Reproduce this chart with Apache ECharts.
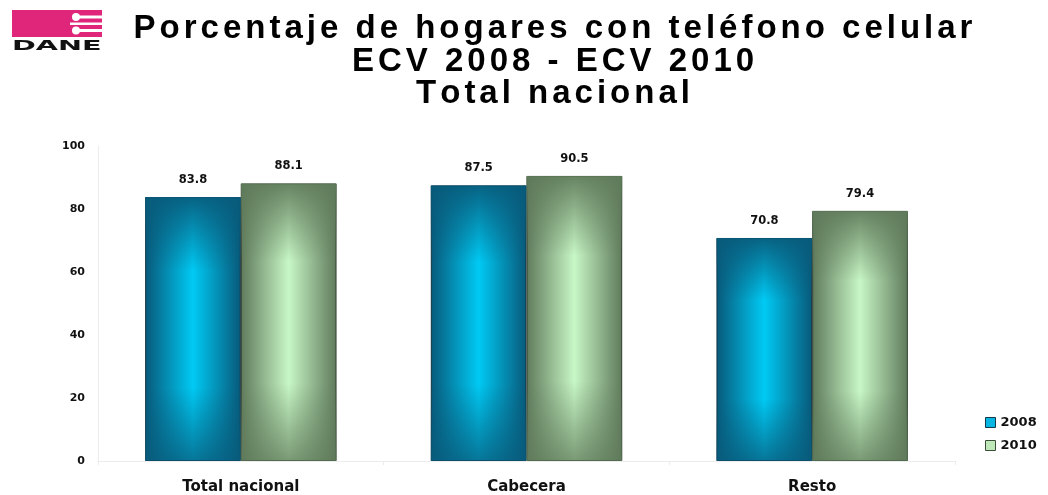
<!DOCTYPE html>
<html>
<head>
<meta charset="utf-8">
<style>html,body{margin:0;padding:0;background:#fff;}#c{width:1048px;height:495px;}</style>
<script src="https://cdn.jsdelivr.net/npm/echarts@6/dist/echarts.min.js"></script>
</head>
<body>
<div id="c"></div>
<script>
const titleLines = ['Porcentaje de hogares con teléfono celular', 'ECV 2008 - ECV 2010', 'Total nacional'];
const categories = ['Total nacional', 'Cabecera', 'Resto'];
const values2008 = [83.8, 87.5, 70.8];
const values2010 = [88.1, 90.5, 79.4];
const seriesNames = ['2008', '2010'];
const yTicks = { min: 0, max: 100, interval: 20 };

const chart = echarts.init(document.getElementById('c'), null, { renderer: 'canvas' });

function hGrad(edge, center) {
  return new echarts.graphic.LinearGradient(0, 0, 1, 0, [
    { offset: 0, color: edge },
    { offset: 0.5, color: center },
    { offset: 1, color: edge }
  ]);
}
function vShade(rgb) {
  return new echarts.graphic.LinearGradient(0, 0, 0, 1, [
    { offset: 0, color: 'rgba(' + rgb + ',0.92)' },
    { offset: 0.28, color: 'rgba(' + rgb + ',0)' },
    { offset: 0.72, color: 'rgba(' + rgb + ',0)' },
    { offset: 1, color: 'rgba(' + rgb + ',0.75)' }
  ]);
}
// letter-spaced title: each character as a rich token with side padding
function spaced(line) {
  return Array.from(line).map(ch => '{s|' + ch + '}').join('');
}

const font = 'Liberation Sans';
const lblFont = 'DejaVu Sans';
const labelStyle = { show: true, position: 'top', distance: 11, fontFamily: lblFont, fontWeight: 'bold', fontSize: 11.5, color: '#111' };

const xAxisBase = {
  type: 'category',
  data: categories,
  axisLine: { lineStyle: { color: '#ececec' } },
  axisTick: { show: true, length: 4, lineStyle: { color: '#ececec' } },
  splitLine: { show: false }
};

chart.setOption({
  backgroundColor: '#ffffff',
  animation: false,
  title: {
    text: titleLines.map(spaced).join('\n'),
    left: 548,
    top: 8,
    textAlign: 'center',
    textStyle: {
      fontFamily: font, fontWeight: 'bold', fontSize: 33, lineHeight: 32.5, color: '#000',
      rich: { s: { fontFamily: font, fontWeight: 'bold', fontSize: 33, lineHeight: 32.5, color: '#000', padding: [0, 2, 0, 2] } }
    }
  },
  graphic: [
    { type: 'rect', shape: { x: 12, y: 10, width: 90, height: 27 }, style: { fill: '#e0267a' } },
    { type: 'rect', shape: { x: 74, y: 15.5, width: 28, height: 3 }, style: { fill: '#fff' } },
    { type: 'rect', shape: { x: 70, y: 22.5, width: 32, height: 2.5 }, style: { fill: '#fff' } },
    { type: 'rect', shape: { x: 74, y: 29, width: 28, height: 3 }, style: { fill: '#fff' } },
    { type: 'circle', shape: { cx: 76, cy: 17, r: 4 }, style: { fill: '#fff' } },
    { type: 'circle', shape: { cx: 76, cy: 30.5, r: 4 }, style: { fill: '#fff' } },
    { type: 'text', x: 12, y: 39, scaleX: 2.05, style: { text: 'DANE', fontFamily: 'DejaVu Sans', fontWeight: 'bold', fontSize: 14, fill: '#111' } }
  ],
  legend: {
    orient: 'vertical',
    left: 980,
    top: 411,
    itemWidth: 10,
    itemHeight: 10,
    itemGap: 10,
    textStyle: { fontFamily: lblFont, fontWeight: 'bold', fontSize: 13, color: '#111' },
    data: [
      { name: seriesNames[0], icon: 'rect', itemStyle: { color: '#08b6e2', borderColor: '#14394a', borderWidth: 1 } },
      { name: seriesNames[1], icon: 'rect', itemStyle: { color: '#bfe8b8', borderColor: '#3c4e3a', borderWidth: 1 } }
    ]
  },
  grid: { left: 98, right: 93, top: 146, bottom: 34, containLabel: false },
  xAxis: [
    Object.assign({}, xAxisBase, {
      axisLabel: { fontFamily: lblFont, fontWeight: 'bold', fontSize: 15, color: '#111', margin: 19 }
    }),
    Object.assign({}, xAxisBase, { show: false })
  ],
  yAxis: {
    type: 'value',
    min: yTicks.min,
    max: yTicks.max,
    interval: yTicks.interval,
    axisLine: { show: true, lineStyle: { color: '#ececec' } },
    axisTick: { show: false },
    splitLine: { show: false },
    axisLabel: { fontFamily: lblFont, fontWeight: 'bold', fontSize: 11, color: '#111', margin: 13 }
  },
  series: [
    {
      name: seriesNames[0], type: 'bar', xAxisIndex: 0, data: values2008,
      barGap: '0%', barCategoryGap: '33%',
      itemStyle: { color: hGrad('#08597a', '#00caf4'), borderColor: '#15323f', borderWidth: 1 },
      label: labelStyle
    },
    {
      name: seriesNames[1], type: 'bar', xAxisIndex: 0, data: values2010,
      barGap: '0%', barCategoryGap: '33%',
      itemStyle: { color: hGrad('#5f7a5b', '#c8f7c6'), borderColor: '#2f3d2e', borderWidth: 1 },
      label: labelStyle
    },
    {
      name: 'shade2008', type: 'bar', xAxisIndex: 1, data: values2008, silent: true,
      barGap: '0%', barCategoryGap: '33%',
      itemStyle: { color: vShade('8,90,122') }, z: 3
    },
    {
      name: 'shade2010', type: 'bar', xAxisIndex: 1, data: values2010, silent: true,
      barGap: '0%', barCategoryGap: '33%',
      itemStyle: { color: vShade('95,122,90') }, z: 3
    }
  ]
});
</script>
</body>
</html>
